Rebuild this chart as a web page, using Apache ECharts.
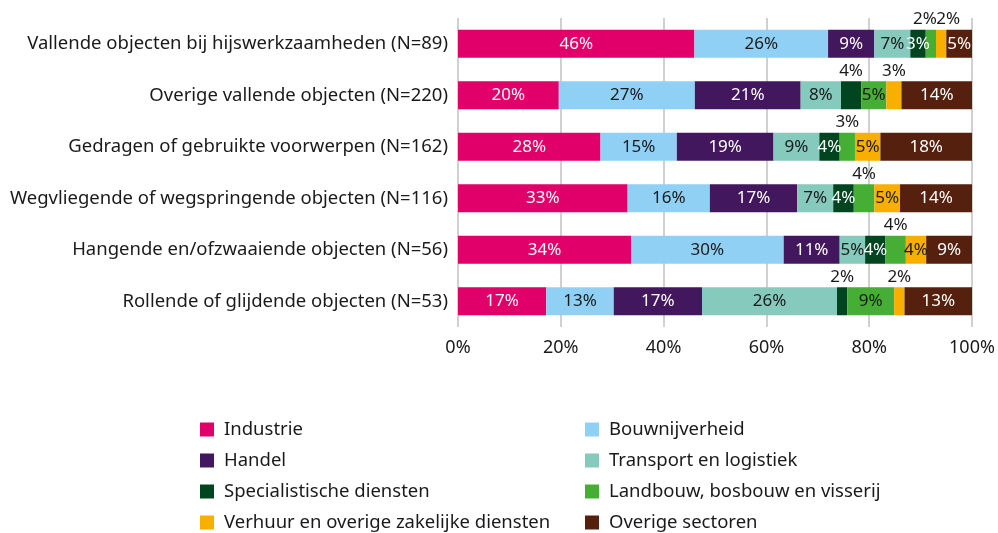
<!DOCTYPE html>
<html><head><meta charset="utf-8">
<script src="https://cdn.jsdelivr.net/npm/echarts@6/dist/echarts.min.js"></script>
<style>html,body{margin:0;padding:0;background:#fff}#c{width:998px;height:533px}</style>
</head><body><div id="c"></div>
<script>
const categories = [
  "Vallende objecten bij hijswerkzaamheden (N=89)",
  "Overige vallende objecten (N=220)",
  "Gedragen of gebruikte voorwerpen (N=162)",
  "Wegvliegende of wegspringende objecten (N=116)",
  "Hangende en/ofzwaaiende objecten (N=56)",
  "Rollende of glijdende objecten (N=53)"
];
const seriesNames = [
  "Industrie", "Bouwnijverheid", "Handel", "Transport en logistiek",
  "Specialistische diensten", "Landbouw, bosbouw en visserij",
  "Verhuur en overige zakelijke diensten", "Overige sectoren"
];
const industrie      = [46, 20, 28, 33, 34, 17];
const bouwnijverheid = [26, 27, 15, 16, 30, 13];
const handel         = [9, 21, 19, 17, 11, 17];
const transport      = [7, 8, 9, 7, 5, 26];
const specialistisch = [3, 4, 4, 4, 4, 2];
const landbouw       = [2, 5, 3, 4, 4, 9];
const verhuur        = [2, 3, 5, 5, 4, 2];
const overige        = [5, 14, 18, 14, 9, 13];
const xTicks = [0, 20, 40, 60, 80, 100];

const values = [industrie, bouwnijverheid, handel, transport, specialistisch, landbouw, verhuur, overige];
const colors = ["#e1006a", "#8fd0f4", "#43175e", "#86c9bd", "#00451f", "#46ae34", "#f9af00", "#55200d"];
const labelColors = ["#fff", "#1a1a1a", "#fff", "#1a1a1a", "#fff", "#1a1a1a", "#1a1a1a", "#fff"];
// series indices whose label sits above the bar, per row
const aboveLabels = [[5, 6], [4, 6], [5], [5], [5], [4, 6]];
// small horizontal nudges for crowded labels above the first row
const labelNudge = { "0-5": -6, "0-6": 7 };

const FONT = "Noto Sans";
const totals = categories.map((_, r) => values.reduce((s, arr) => s + arr[r], 0));

const series = seriesNames.map((name, si) => ({
  name, type: "bar", stack: "t", barWidth: 28,
  itemStyle: { color: colors[si] },
  label: {
    show: true, position: "inside", color: labelColors[si],
    fontFamily: FONT, fontSize: 17,
    formatter: p => p.data.raw + "%"
  },
  data: values[si].map((v, r) => {
    const d = { value: v / totals[r] * 100, raw: v };
    if (aboveLabels[r].includes(si)) {
      d.label = { position: "top", color: "#1a1a1a", distance: 2 };
      const n = labelNudge[r + "-" + si];
      if (n) d.label.offset = [n, 0];
    }
    return d;
  })
}));

const legendText = { fontSize: 18.5, color: "#1a1a1a", fontFamily: FONT, lineHeight: 18, padding: [0, 0, 0, 5] };
const chart = echarts.init(document.getElementById("c"));
chart.setOption({
  animation: false,
  textStyle: { fontFamily: FONT },
  grid: { left: 458, right: 26, top: 18, bottom: 206, containLabel: false },
  xAxis: {
    type: "value", min: 0, max: 100, interval: 20,
    axisLine: { show: false }, axisTick: { show: false },
    splitLine: { show: true, lineStyle: { color: "#d0d0d0", width: 2 } },
    axisLabel: { formatter: v => xTicks.includes(v) ? v + "%" : "", fontSize: 18, color: "#1a1a1a", fontFamily: FONT, margin: 12 }
  },
  yAxis: {
    type: "category", data: categories, inverse: true,
    axisLine: { show: false }, axisTick: { show: false },
    axisLabel: { fontSize: 18.5, color: "#1a1a1a", fontFamily: FONT, margin: 10 }
  },
  legend: [
    { data: [seriesNames[0], seriesNames[2], seriesNames[4], seriesNames[6]],
      orient: "vertical", left: 200, top: 420, height: 120, padding: 0, itemWidth: 14, itemHeight: 14, itemGap: 12, icon: "rect",
      textStyle: legendText },
    { data: [seriesNames[1], seriesNames[3], seriesNames[5], seriesNames[7]],
      orient: "vertical", left: 585, top: 420, height: 120, padding: 0, itemWidth: 14, itemHeight: 14, itemGap: 12, icon: "rect",
      textStyle: legendText }
  ],
  series
});
</script></body></html>
